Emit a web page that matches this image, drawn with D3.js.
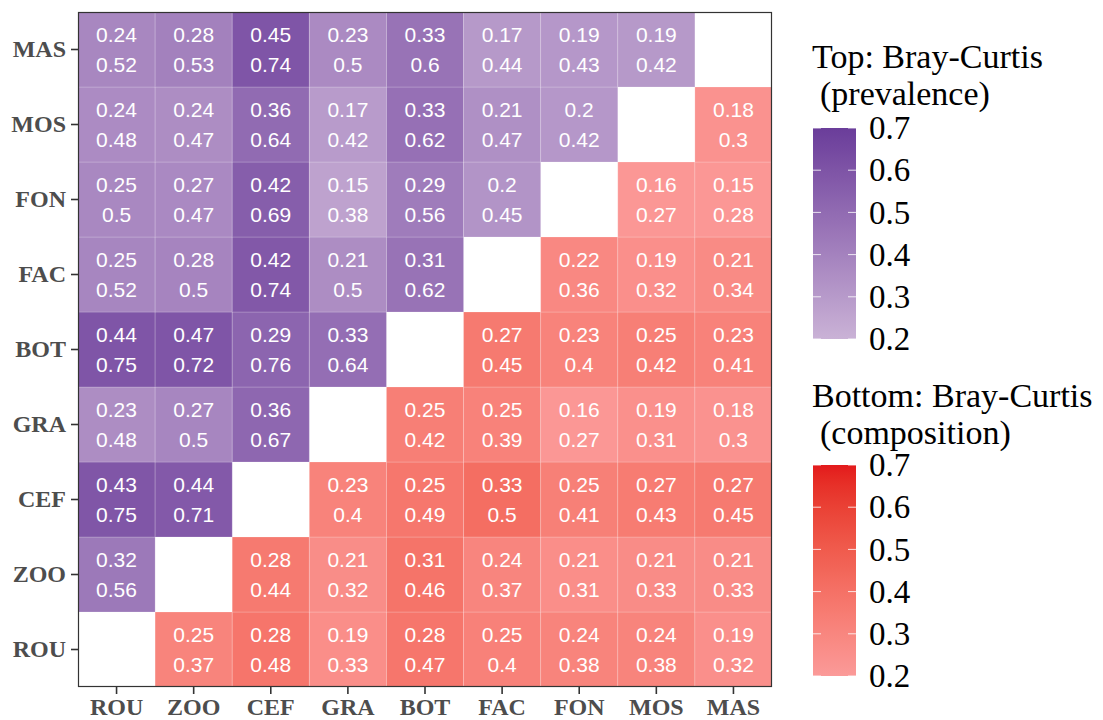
<!DOCTYPE html>
<html>
<head>
<meta charset="utf-8">
<script src="https://cdn.jsdelivr.net/npm/d3@7"></script>
<style>
  html, body { margin: 0; padding: 0; background: #fff; }
  svg { display: block; }
</style>
</head>
<body>
<svg id="chart" width="1103" height="720"></svg>
<script>
// ---- Data ----
const categories = ["ROU", "ZOO", "CEF", "GRA", "BOT", "FAC", "FON", "MOS", "MAS"];
// rows listed by y category (bottom -> top), columns follow categories; null = diagonal
const topValues = [
  /* ROU */ [null, 0.25, 0.28, 0.19, 0.28, 0.25, 0.24, 0.24, 0.19],
  /* ZOO */ [0.32, null, 0.28, 0.21, 0.31, 0.24, 0.21, 0.21, 0.21],
  /* CEF */ [0.43, 0.44, null, 0.23, 0.25, 0.33, 0.25, 0.27, 0.27],
  /* GRA */ [0.23, 0.27, 0.36, null, 0.25, 0.25, 0.16, 0.19, 0.18],
  /* BOT */ [0.44, 0.47, 0.29, 0.33, null, 0.27, 0.23, 0.25, 0.23],
  /* FAC */ [0.25, 0.28, 0.42, 0.21, 0.31, null, 0.22, 0.19, 0.21],
  /* FON */ [0.25, 0.27, 0.42, 0.15, 0.29, 0.2, null, 0.16, 0.15],
  /* MOS */ [0.24, 0.24, 0.36, 0.17, 0.33, 0.21, 0.2, null, 0.18],
  /* MAS */ [0.24, 0.28, 0.45, 0.23, 0.33, 0.17, 0.19, 0.19, null]
];
const bottomValues = [
  /* ROU */ [null, 0.37, 0.48, 0.33, 0.47, 0.4, 0.38, 0.38, 0.32],
  /* ZOO */ [0.56, null, 0.44, 0.32, 0.46, 0.37, 0.31, 0.33, 0.33],
  /* CEF */ [0.75, 0.71, null, 0.4, 0.49, 0.5, 0.41, 0.43, 0.45],
  /* GRA */ [0.48, 0.5, 0.67, null, 0.42, 0.39, 0.27, 0.31, 0.3],
  /* BOT */ [0.75, 0.72, 0.76, 0.64, null, 0.45, 0.4, 0.42, 0.41],
  /* FAC */ [0.52, 0.5, 0.74, 0.5, 0.62, null, 0.36, 0.32, 0.34],
  /* FON */ [0.5, 0.47, 0.69, 0.38, 0.56, 0.45, null, 0.27, 0.28],
  /* MOS */ [0.48, 0.47, 0.64, 0.42, 0.62, 0.47, 0.42, null, 0.3],
  /* MAS */ [0.52, 0.53, 0.74, 0.5, 0.6, 0.44, 0.43, 0.42, null]
];
const legendTicks = [0.2, 0.3, 0.4, 0.5, 0.6, 0.7];
const legendDomain = [0.2, 0.7];
const purpleRange = ["#cab2d6", "#6a3d9a"];
const redRange = ["#fb9a99", "#e31a1c"];
const purpleTitle = ["Top: Bray-Curtis", "(prevalence)"];
const redTitle = ["Bottom: Bray-Curtis", "(composition)"];

// ---- Build cells ----
const cells = [];
topValues.forEach((row, yi) => {
  row.forEach((v, xi) => {
    if (v === null) return;
    cells.push({
      x: categories[xi], y: categories[yi],
      top: v, bottom: bottomValues[yi][xi],
      upper: xi < yi
    });
  });
});

const svg = d3.select("#chart");
const panel = { left: 78, right: 772, top: 12, bottom: 687 };

const x = d3.scaleBand().domain(categories).range([panel.left, panel.right]).padding(0);
const y = d3.scaleBand().domain(categories.slice().reverse()).range([panel.top, panel.bottom]).padding(0);

const purple = d3.scaleLinear().domain(legendDomain).range(purpleRange).interpolate(d3.interpolateLab).clamp(true);
const red = d3.scaleLinear().domain(legendDomain).range(redRange).interpolate(d3.interpolateLab).clamp(true);

const fillOf = d => (d.upper ? purple : red)((d.top + d.bottom) / 2);

// panel background
svg.append("rect")
  .attr("x", panel.left).attr("y", panel.top)
  .attr("width", panel.right - panel.left).attr("height", panel.bottom - panel.top)
  .attr("fill", "#fff");

// tiles
svg.append("g").selectAll("rect").data(cells).join("rect")
  .attr("x", d => x(d.x)).attr("y", d => y(d.y))
  .attr("width", x.bandwidth()).attr("height", y.bandwidth())
  .attr("fill", fillOf)
  .attr("stroke", "#ffffff").attr("stroke-opacity", 0.18).attr("stroke-width", 1);

// cell labels
const lab = svg.append("g")
  .attr("font-family", "'Liberation Sans', Arial, Helvetica, sans-serif")
  .attr("font-size", 21).attr("fill", "#ffffff").attr("text-anchor", "middle");
lab.selectAll("text.t").data(cells).join("text").attr("class", "t")
  .attr("x", d => x(d.x) + x.bandwidth() / 2)
  .attr("y", d => y(d.y) + y.bandwidth() / 2 - 8)
  .text(d => String(d.top));
lab.selectAll("text.b").data(cells).join("text").attr("class", "b")
  .attr("x", d => x(d.x) + x.bandwidth() / 2)
  .attr("y", d => y(d.y) + y.bandwidth() / 2 + 22)
  .text(d => String(d.bottom));

// panel border
svg.append("rect")
  .attr("x", panel.left + 0.5).attr("y", panel.top + 0.5)
  .attr("width", panel.right - panel.left - 1).attr("height", panel.bottom - panel.top - 1)
  .attr("fill", "none").attr("stroke", "#333333").attr("stroke-width", 1.2);

// axes
const axisFont = "'Liberation Serif', 'Times New Roman', Times, serif";
const xAxis = svg.append("g").attr("transform", `translate(0,${panel.bottom})`)
  .call(d3.axisBottom(x).tickSize(7).tickPadding(5));
const yAxis = svg.append("g").attr("transform", `translate(${panel.left},0)`)
  .call(d3.axisLeft(y).tickSize(7).tickPadding(5));
[xAxis, yAxis].forEach(g => {
  g.select(".domain").remove();
  g.selectAll(".tick line").attr("stroke", "#333333").attr("stroke-width", 1.6);
  g.selectAll(".tick text")
    .attr("font-family", axisFont).attr("font-weight", "bold")
    .attr("font-size", 24).attr("fill", "#4d4d4d");
});
xAxis.selectAll(".tick text").attr("dy", null).attr("y", 28);
yAxis.selectAll(".tick text").attr("dy", "0.33em");

// legends
const defs = svg.append("defs");
function legend(id, scale, title, titleY, barTop) {
  const barH = 211, barX = 813, barW = 43;
  const ly = d3.scaleLinear().domain(legendDomain).range([barTop + barH, barTop]);
  const grad = defs.append("linearGradient").attr("id", id)
    .attr("x1", 0).attr("y1", 1).attr("x2", 0).attr("y2", 0);
  d3.range(0, 1.0001, 0.05).forEach(t => {
    grad.append("stop").attr("offset", t)
      .attr("stop-color", scale(legendDomain[0] + t * (legendDomain[1] - legendDomain[0])));
  });
  const g = svg.append("g");
  g.append("text").attr("x", 812).attr("y", titleY)
    .attr("font-family", axisFont).attr("font-size", 34).attr("fill", "#000")
    .text(title[0]);
  g.append("text").attr("x", 820).attr("y", titleY + 36.5)
    .attr("font-family", axisFont).attr("font-size", 34).attr("fill", "#000")
    .text(title[1]);
  g.append("rect").attr("x", barX).attr("y", barTop).attr("width", barW).attr("height", barH)
    .attr("fill", `url(#${id})`);
  legendTicks.forEach(v => {
    const yy = ly(v);
    g.append("line").attr("x1", barX).attr("x2", barX + 8).attr("y1", yy).attr("y2", yy)
      .attr("stroke", "#ffffff").attr("stroke-opacity", 0.8).attr("stroke-width", 1);
    g.append("line").attr("x1", barX + barW - 8).attr("x2", barX + barW).attr("y1", yy).attr("y2", yy)
      .attr("stroke", "#ffffff").attr("stroke-opacity", 0.8).attr("stroke-width", 1);
    g.append("text").attr("x", 869).attr("y", yy).attr("dy", "0.34em")
      .attr("font-family", axisFont).attr("font-size", 33).attr("fill", "#000")
      .text(String(v));
  });
}
legend("gradPurple", purple, purpleTitle, 68, 128);
legend("gradRed", red, redTitle, 407, 465);
</script>
</body>
</html>
